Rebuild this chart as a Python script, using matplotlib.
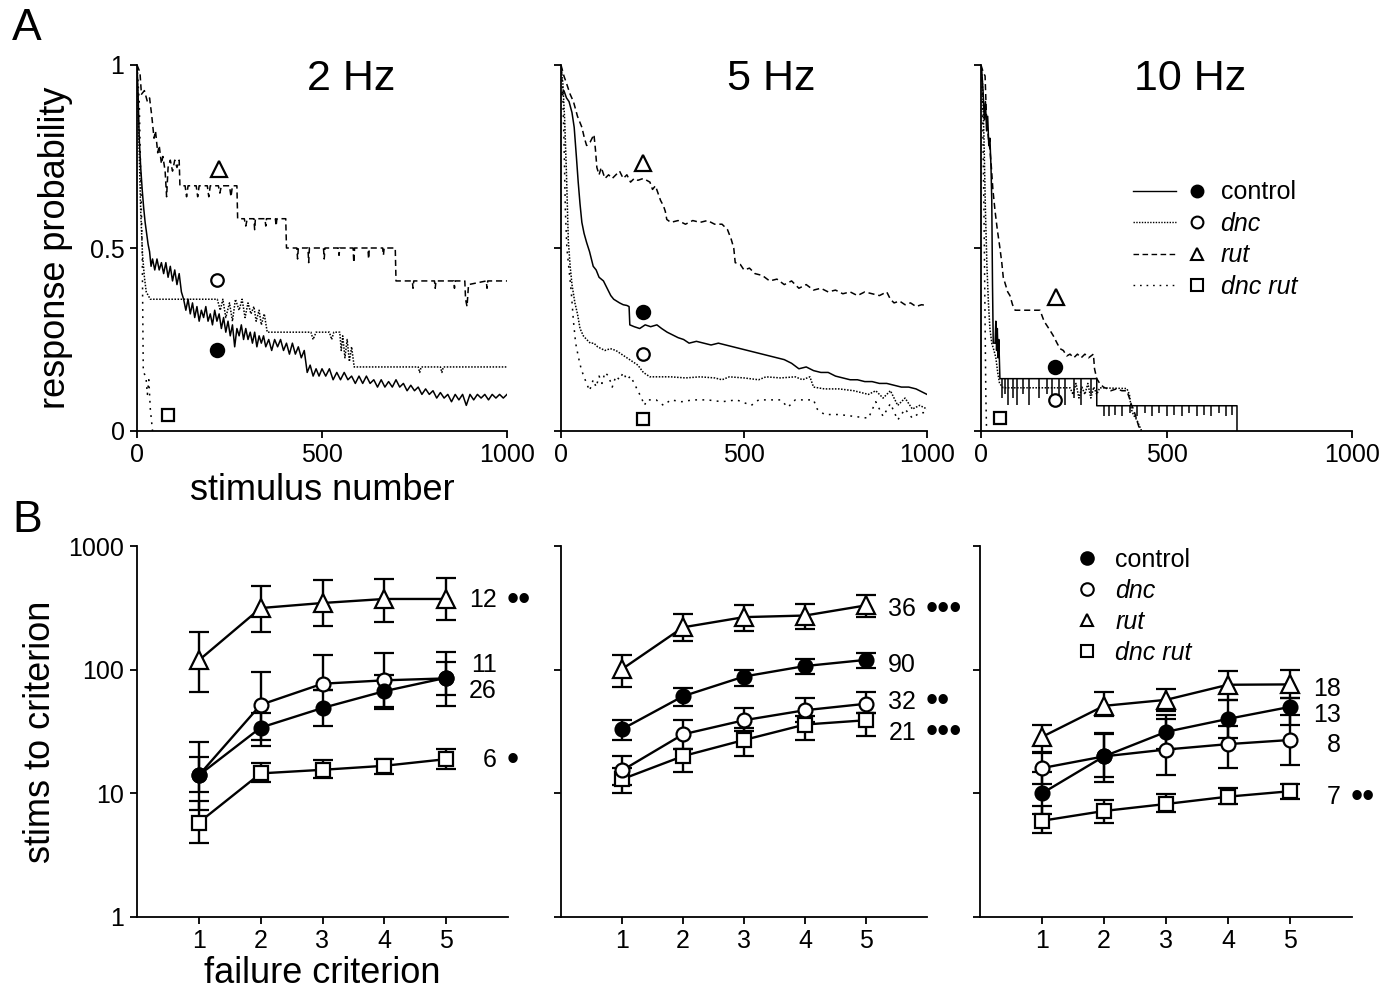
import matplotlib
matplotlib.use('Agg')
import matplotlib.pyplot as plt
from matplotlib.lines import Line2D
from matplotlib.legend_handler import HandlerTuple

plt.rcParams['font.family'] = ['Liberation Sans', 'DejaVu Sans']

# ---------------- Panel A data (response probability vs stimulus number) ----
stim_ticks = [0, 500, 1000]
prob_ticks = [0, 0.5, 1]
prob_ticklabels = ['0', '0.5', '1']
freq_titles = ['2 Hz', '5 Hz', '10 Hz']

ctrl_2hz = [(0,1.0),(3,0.92),(6,0.80),(10,0.72),(14,0.66),(18,0.61),(22,0.57),(26,0.54),(30,0.51),(34,0.49),
            (38,0.45),(42,0.47),(48,0.44),(54,0.47),(60,0.44),(66,0.46),(72,0.43),(78,0.46),(84,0.42),(90,0.45),
            (96,0.41),(102,0.44),(108,0.40),(114,0.43),(120,0.38),(126,0.36),(132,0.33),(138,0.36),(144,0.32),(150,0.35),
            (156,0.31),(162,0.34),(168,0.30),(174,0.33),(180,0.31),(186,0.34),(192,0.30),(198,0.32),(204,0.29),(210,0.33),
            (216,0.30),(222,0.32),(228,0.28),(234,0.31),(240,0.27),(246,0.30),(252,0.26),(258,0.29),(264,0.23),(270,0.28),
            (276,0.26),(282,0.29),(288,0.25),(294,0.28),(300,0.25),(306,0.27),(312,0.24),(318,0.27),(324,0.23),(330,0.26),
            (336,0.24),(342,0.26),(348,0.23),(356,0.25),(364,0.22),(372,0.25),(380,0.23),(388,0.25),(396,0.22),(404,0.24),
            (412,0.21),(420,0.24),(428,0.21),(436,0.23),(444,0.20),(452,0.22),(460,0.16),(468,0.18),(476,0.15),(484,0.17),
            (492,0.15),(500,0.17),(510,0.15),(520,0.17),(530,0.14),(540,0.16),(550,0.14),(560,0.16),(570,0.14),(580,0.15),
            (590,0.13),(600,0.15),(610,0.13),(620,0.15),(630,0.13),(640,0.14),(650,0.12),(660,0.14),(670,0.12),(680,0.135),
            (690,0.12),(700,0.14),(710,0.12),(720,0.13),(730,0.11),(740,0.125),(750,0.11),(760,0.12),(770,0.10),(780,0.115),
            (790,0.10),(800,0.11),(810,0.09),(820,0.105),(830,0.09),(840,0.10),(850,0.08),(860,0.10),(870,0.085),(880,0.10),
            (890,0.07),(900,0.10),(910,0.085),(920,0.10),(930,0.09),(940,0.10),(950,0.085),(960,0.10),(970,0.09),(980,0.10),
            (990,0.09),(1000,0.10)]
dnc_2hz = [(0,1.0),(5,0.80),(10,0.60),(15,0.48),(20,0.42),(25,0.38),(36,0.36),(217,0.36),(225,0.33),(232,0.36),
           (240,0.31),(250,0.35),(258,0.30),(266,0.36),(276,0.33),(284,0.36),(292,0.31),(300,0.35),(308,0.32),(316,0.34),
           (322,0.30),(330,0.33),(336,0.29),(344,0.32),(352,0.27),(470,0.27),(476,0.25),(484,0.27),(520,0.27),(526,0.25),
           (532,0.27),(548,0.27),(552,0.22),(556,0.26),(562,0.20),(568,0.25),(574,0.19),(580,0.23),(587,0.175),(760,0.175),
           (764,0.16),(768,0.175),(820,0.175),(824,0.16),(828,0.175),(1000,0.175)]
rut_2hz = [(0,1.0),(8,0.98),(12,0.92),(20,0.93),(28,0.90),(34,0.91),(40,0.86),(46,0.80),(50,0.82),(56,0.76),
           (60,0.78),(66,0.73),(70,0.75),(76,0.71),(80,0.64),(84,0.72),(90,0.74),(96,0.71),(102,0.74),(108,0.72),
           (114,0.74),(116,0.67),(130,0.67),(134,0.64),(138,0.67),(160,0.67),(164,0.64),(168,0.67),(190,0.67),(194,0.64),
           (198,0.67),(220,0.67),(224,0.65),(228,0.67),(250,0.67),(254,0.64),(258,0.67),(270,0.67),(272,0.58),(290,0.58),
           (294,0.56),(298,0.58),(316,0.58),(318,0.55),(320,0.58),(346,0.58),(348,0.56),(350,0.58),(374,0.58),(376,0.56),
           (378,0.58),(402,0.58),(404,0.50),(432,0.50),(434,0.47),(436,0.50),(462,0.50),(464,0.46),(466,0.50),(504,0.50),
           (506,0.47),(508,0.50),(544,0.50),(546,0.48),(548,0.50),(584,0.50),(586,0.46),(588,0.50),(624,0.50),(626,0.47),
           (628,0.50),(664,0.50),(666,0.48),(668,0.50),(698,0.50),(700,0.41),(744,0.41),(746,0.39),(748,0.41),(804,0.41),
           (806,0.39),(808,0.41),(856,0.41),(858,0.39),(860,0.41),(886,0.41),(888,0.36),(892,0.34),(896,0.40),(944,0.41),
           (946,0.39),(948,0.41),(1000,0.41)]
dncrut_2hz = [(0,1.0),(6,0.90),(14,0.50),(17,0.16),(24,0.15),(28,0.10),(32,0.14),(36,0.06),(40,0.02),(42,0.0)]

ctrl_5hz = [(0,0.92),(8,0.93),(15,0.91),(22,0.90),(30,0.87),(36,0.83),(42,0.75),(47,0.68),(52,0.62),(57,0.57),
            (63,0.54),(70,0.515),(78,0.49),(88,0.45),(96,0.44),(104,0.42),(116,0.41),(126,0.39),(136,0.37),(144,0.36),
            (152,0.355),(160,0.35),(170,0.345),(180,0.343),(186,0.34),(188,0.29),(200,0.285),(215,0.28),(230,0.29),(245,0.285),
            (262,0.29),(275,0.28),(290,0.27),(300,0.265),(310,0.26),(320,0.255),(335,0.25),(350,0.24),(370,0.245),(390,0.24),
            (410,0.235),(430,0.24),(450,0.235),(470,0.23),(490,0.225),(510,0.22),(530,0.215),(550,0.21),(570,0.205),(590,0.20),
            (610,0.195),(630,0.185),(650,0.17),(670,0.175),(690,0.165),(710,0.16),(730,0.16),(750,0.15),(770,0.145),(790,0.14),
            (810,0.14),(830,0.135),(850,0.135),(870,0.13),(890,0.13),(910,0.125),(930,0.12),(950,0.12),(970,0.115),(990,0.105),
            (1000,0.10)]
dnc_5hz = [(0,1.0),(5,0.95),(10,0.85),(15,0.70),(20,0.52),(25,0.45),(30,0.40),(38,0.35),(45,0.32),(52,0.28),
           (61,0.26),(70,0.25),(80,0.24),(90,0.24),(100,0.23),(110,0.225),(120,0.22),(135,0.225),(150,0.22),(165,0.21),
           (180,0.20),(195,0.19),(210,0.18),(225,0.16),(243,0.148),(300,0.148),(340,0.145),(380,0.148),(420,0.145),(440,0.14),
           (460,0.148),(500,0.145),(540,0.14),(560,0.148),(600,0.145),(640,0.148),(660,0.14),(680,0.148),(690,0.12),(720,0.115),
           (760,0.115),(800,0.11),(840,0.10),(860,0.11),(880,0.09),(900,0.11),(920,0.07),(940,0.09),(960,0.06),(980,0.07),
           (1000,0.06)]
rut_5hz = [(0,1.0),(8,0.97),(15,0.95),(25,0.92),(34,0.90),(45,0.86),(57,0.83),(64,0.80),(70,0.78),(80,0.79),
           (90,0.81),(94,0.77),(98,0.72),(104,0.70),(110,0.72),(120,0.69),(130,0.70),(140,0.69),(150,0.70),(160,0.71),
           (170,0.69),(180,0.70),(190,0.68),(200,0.69),(210,0.685),(225,0.69),(243,0.68),(250,0.66),(258,0.67),(265,0.65),
           (272,0.63),(280,0.615),(285,0.60),(289,0.578),(300,0.57),(320,0.575),(340,0.565),(360,0.575),(380,0.57),(400,0.575),
           (420,0.565),(440,0.565),(455,0.55),(465,0.524),(472,0.50),(476,0.46),(490,0.455),(500,0.44),(515,0.445),(530,0.43),
           (550,0.425),(570,0.41),(590,0.415),(610,0.40),(630,0.41),(650,0.39),(670,0.40),(690,0.385),(710,0.39),(730,0.38),
           (750,0.385),(770,0.375),(790,0.38),(810,0.37),(830,0.38),(850,0.375),(870,0.37),(890,0.38),(900,0.36),(910,0.35),
           (925,0.355),(940,0.345),(955,0.35),(970,0.34),(985,0.345),(1000,0.343)]
dncrut_5hz = [(0,1.0),(4,0.95),(8,0.80),(12,0.60),(16,0.50),(22,0.44),(28,0.38),(34,0.30),(40,0.24),(48,0.20),
              (55,0.17),(62,0.15),(70,0.13),(78,0.11),(88,0.14),(96,0.12),(104,0.15),(112,0.13),(120,0.16),(130,0.15),
              (140,0.12),(150,0.15),(160,0.14),(170,0.16),(180,0.14),(190,0.15),(200,0.13),(210,0.11),(220,0.09),(228,0.07),
              (235,0.085),(260,0.085),(280,0.07),(300,0.085),(330,0.08),(360,0.085),(400,0.085),(440,0.08),(480,0.085),(520,0.07),
              (540,0.085),(600,0.085),(620,0.065),(640,0.085),(690,0.085),(700,0.06),(720,0.045),(760,0.045),(800,0.04),(840,0.035),
              (860,0.08),(880,0.04),(900,0.075),(920,0.03),(940,0.06),(960,0.035),(980,0.05),(1000,0.05)]

ctrl_10hz = [(0,1.0),(3,0.97),(6,0.92),(9,0.85),(12,0.90),(15,0.82),(18,0.86),(21,0.78),(24,0.80),(27,0.72),
             (29,0.63),(31,0.40),(33,0.24),(38,0.24),(40,0.30),(42,0.22),(44,0.28),(46,0.20),(48,0.25),(51,0.143),
             (312,0.143),(312,0.069),(690,0.069),(690,0.0)]
ctrl_10hz_dip_x = [57,65,73,86,98,113,129,156,177,191,211,226,251,269,296,
                   331,346,361,381,401,421,441,461,481,501,521,541,561,581,601,621,641,661,676]
ctrl_10hz_dip_lo = [0.09,0.10,0.07,0.09,0.07,0.10,0.07,0.09,0.10,0.07,0.09,0.07,0.09,0.07,0.10,
                    0.04,0.04,0.045,0.04,0.05,0.04,0.05,0.04,0.05,0.04,0.045,0.04,0.05,0.04,0.045,0.04,0.05,0.04,0.045]
ctrl_10hz_dip_hi = [0.143]*15 + [0.069]*19
dnc_10hz = [(0,1.0),(4,0.95),(8,0.80),(12,0.60),(16,0.45),(20,0.35),(24,0.28),(29,0.24),(35,0.22),(40,0.20),
            (45,0.16),(50,0.13),(60,0.118),(240,0.118),(248,0.10),(256,0.13),(264,0.09),(272,0.12),(280,0.10),(288,0.13),
            (296,0.09),(304,0.12),(312,0.10),(320,0.118),(393,0.116),(400,0.10),(405,0.06),(411,0.044),(420,0.03),(433,0.0)]
rut_10hz = [(0,1.0),(6,0.98),(11,0.97),(15,0.85),(20,0.80),(24,0.77),(28,0.72),(32,0.66),(38,0.60),(44,0.55),
            (51,0.50),(56,0.46),(60,0.42),(66,0.40),(72,0.38),(78,0.37),(85,0.345),(92,0.33),(159,0.33),(170,0.30),
            (186,0.275),(195,0.26),(205,0.24),(213,0.225),(222,0.22),(231,0.205),(240,0.21),(250,0.20),(260,0.21),(270,0.20),
            (280,0.21),(290,0.20),(303,0.21),(306,0.17),(312,0.143),(320,0.13),(330,0.12),(339,0.116),(350,0.11),(365,0.115),
            (380,0.11),(393,0.11),(400,0.09),(406,0.07),(411,0.06),(420,0.03),(429,0.0)]
dncrut_10hz = [(0,1.0),(4,0.90),(8,0.60),(11,0.30),(13,0.10),(15,0.0)]

traces_A = [
    {'control': ctrl_2hz, 'dnc': dnc_2hz, 'rut': rut_2hz, 'dnc rut': dncrut_2hz},
    {'control': ctrl_5hz, 'dnc': dnc_5hz, 'rut': rut_5hz, 'dnc rut': dncrut_5hz},
    {'control': ctrl_10hz, 'dnc': dnc_10hz, 'rut': rut_10hz, 'dnc rut': dncrut_10hz},
]

# identifying symbols placed beside the traces (stimulus number, probability)
sym_2hz = {'control': (216, 0.22), 'dnc': (216, 0.412), 'rut': (221, 0.716), 'dnc rut': (84, 0.045)}
sym_5hz = {'control': (224, 0.326), 'dnc': (224, 0.211), 'rut': (225, 0.733), 'dnc rut': (224, 0.033)}
sym_10hz = {'control': (200, 0.175), 'dnc': (200, 0.084), 'rut': (202, 0.365), 'dnc rut': (51, 0.036)}
symbols_A = [sym_2hz, sym_5hz, sym_10hz]

# ---------------- Panel B data (stims to criterion vs failure criterion) ----
criterion = [1, 2, 3, 4, 5]
stim_log_ticks = [1, 10, 100, 1000]
stim_log_labels = ['1', '10', '100', '1000']

B_2hz = {
    'control': dict(y=[14, 34, 49, 67, 86], lo=[10.2, 24, 35, 48, 62], hi=[19.5, 45, 68, 90, 116]),
    'dnc': dict(y=[14, 52, 77, 82, 85], lo=[7.4, 27, 68, 50, 51], hi=[25.8, 95, 131, 137, 140]),
    'rut': dict(y=[119, 315, 346, 373, 373], lo=[66, 203, 226, 245, 253], hi=[203, 479, 529, 539, 552]),
    'dnc rut': dict(y=[5.8, 14.5, 15.5, 16.7, 18.9], lo=[3.96, 12.4, 13.4, 14.3, 15.7], hi=[8.7, 17.5, 18.6, 18.9, 23]),
}
B_5hz = {
    'control': dict(y=[33, 61, 88, 107, 120], lo=[27, 51, 74, 92, 104], hi=[39, 71, 100, 122, 136]),
    'dnc': dict(y=[15.3, 30, 39, 47, 53], lo=[11.7, 23, 32, 38, 45], hi=[20.2, 39.5, 49, 59, 66]),
    'rut': dict(y=[101, 220, 266, 274, 331], lo=[72, 170, 205, 214, 266], hi=[132, 283, 335, 341, 404]),
    'dnc rut': dict(y=[13, 20, 27, 36, 39], lo=[10, 15, 20, 27, 29], hi=[16, 23, 34, 42, 45]),
}
B_10hz = {
    'control': dict(y=[10, 19.9, 31.4, 40, 50], lo=[6.8, 12.3, 23, 28, 36], hi=[14.8, 31, 43, 57, 59]),
    'dnc': dict(y=[16, 19.9, 22.6, 25, 27], lo=[12, 13.5, 14, 16, 17], hi=[21, 30, 40, 35, 43]),
    'rut': dict(y=[28.6, 51, 57, 75.5, 76], lo=[21.5, 42, 46, 57, 59], hi=[35.6, 66, 70, 97, 99]),
    'dnc rut': dict(y=[6, 7.2, 8.2, 9.4, 10.4], lo=[4.8, 5.8, 7, 8.2, 9], hi=[7.9, 8.8, 9.8, 11, 11.9]),
}
data_B = [B_2hz, B_5hz, B_10hz]

# number of flies (n) and significance, with the height where each label sits
n_2hz = {'rut': ('12', '••', 365), 'dnc': ('11', '', 109), 'control': ('26', '', 67), 'dnc rut': ('6', '•', 18.6)}
n_5hz = {'rut': ('36', '•••', 309), 'control': ('90', '', 109), 'dnc': ('32', '••', 55), 'dnc rut': ('21', '•••', 31)}
n_10hz = {'rut': ('18', '', 70), 'control': ('13', '', 43), 'dnc': ('8', '', 24.6), 'dnc rut': ('7', '••', 9.3)}
n_labels = [n_2hz, n_5hz, n_10hz]

genotypes = ['control', 'dnc', 'rut', 'dnc rut']

# ---------------- styles ----------------
line_style = {'control': '-', 'dnc': (0, (1.0, 1.0)), 'rut': (0, (4.0, 2.5)), 'dnc rut': (0, (1.2, 3.5))}
mk = {'control': 'o', 'dnc': 'o', 'rut': '^', 'dnc rut': 's'}
mfc = {'control': 'k', 'dnc': 'w', 'rut': 'w', 'dnc rut': 'w'}
ms_A = {'control': 9.5, 'dnc': 9.0, 'rut': 11.5, 'dnc rut': 9.0}
ms_B = {'control': 10.0, 'dnc': 10.0, 'rut': 12.5, 'dnc rut': 10.0}
italic = {'control': 'normal', 'dnc': 'italic', 'rut': 'italic', 'dnc rut': 'italic'}

W, H = 1383, 994
fig = plt.figure(figsize=(W / 100, H / 100), dpi=100)

def ax_rect(x0, x1, ytop, ybot):
    return [x0 / W, 1 - ybot / H, (x1 - x0) / W, (ybot - ytop) / H]

top_x = [(137, 507), (561, 927), (981, 1352)]
bot_x = [(137, 508), (561, 927), (980, 1352)]
axA = [fig.add_axes(ax_rect(a, b, 65, 431)) for a, b in top_x]
axB = [fig.add_axes(ax_rect(a, b, 546, 917)) for a, b in bot_x]

TICK_FS = 18
SPINE_LW = 1.3

def style_axis(ax):
    for s in ['top', 'right']:
        ax.spines[s].set_visible(False)
    for s in ['left', 'bottom']:
        ax.spines[s].set_linewidth(SPINE_LW)
    ax.tick_params(direction='out', length=5, width=SPINE_LW, labelsize=TICK_FS, pad=4)

# ---- Panel A ----
for i, ax in enumerate(axA):
    style_axis(ax)
    for g in genotypes:
        pts = traces_A[i][g]
        xs = [p[0] for p in pts]
        ys = [p[1] for p in pts]
        ax.plot(xs, ys, color='k', lw=1.1, linestyle=line_style[g])
    if i == 2:
        ax.vlines(ctrl_10hz_dip_x, ctrl_10hz_dip_lo, ctrl_10hz_dip_hi, color='k', lw=1.1)
    for g in genotypes:
        sx, sy = symbols_A[i][g]
        ax.plot([sx], [sy], marker=mk[g], ms=ms_A[g], mfc=mfc[g], mec='k', mew=1.6, ls='none', zorder=5)
    ax.set_xlim(0, 1000)
    ax.set_ylim(0, 1)
    ax.set_xticks(stim_ticks)
    ax.set_xticklabels([str(t) for t in stim_ticks])
    ax.set_yticks(prob_ticks)
    if i == 0:
        ax.set_yticklabels(prob_ticklabels)
        ax.set_ylabel('response probability', fontsize=26, labelpad=12)
        ax.set_xlabel('stimulus number', fontsize=26, labelpad=4)
    else:
        ax.set_yticklabels([])
    ax.text([0.58, 0.575, 0.565][i], 0.962, freq_titles[i], transform=ax.transAxes,
            ha='center', va='center', fontsize=31)

# legend for panel A (line + symbol)
handles = []
for g in genotypes:
    ln = Line2D([], [], color='k', lw=1.0, linestyle=line_style[g])
    mkr = Line2D([], [], marker=mk[g], ms=8.5, mfc=mfc[g], mec='k', mew=1.5, ls='none')
    handles.append((ln, mkr))
legA = axA[2].legend(handles, genotypes, handler_map={tuple: HandlerTuple(ndivide=2, pad=0.0)},
                     loc='upper left', bbox_to_anchor=(0.41, 0.685), frameon=False, fontsize=18,
                     handlelength=3.4, handletextpad=0.1, labelspacing=0.30, borderpad=0, borderaxespad=0)
for t, g in zip(legA.get_texts(), genotypes):
    t.set_style(italic[g])

# ---- Panel B ----
for i, ax in enumerate(axB):
    style_axis(ax)
    ax.set_yscale('log')
    for g in ['dnc rut', 'dnc', 'control', 'rut']:
        d = data_B[i][g]
        yerr = [[y - l for y, l in zip(d['y'], d['lo'])], [h - y for y, h in zip(d['y'], d['hi'])]]
        ax.errorbar(criterion, d['y'], yerr=yerr, color='k', lw=1.7, elinewidth=1.7, capsize=7.5,
                    capthick=1.7, marker=mk[g], ms=ms_B[g], mfc=mfc[g], mec='k', mew=1.6, zorder=3)
    for g in genotypes:
        num, sig, ypos = n_labels[i][g]
        ax.text(5.82, ypos, num, ha='right', va='center', fontsize=18)
        if sig:
            ax.text(5.98, ypos, sig, ha='left', va='center', fontsize=25, clip_on=False)
    ax.set_xlim(0, 6)
    ax.set_ylim(1, 1000)
    ax.set_xticks(criterion)
    ax.set_xticklabels([str(c) for c in criterion])
    ax.set_yticks(stim_log_ticks)
    ax.yaxis.set_minor_locator(matplotlib.ticker.NullLocator())
    if i == 0:
        ax.set_yticklabels(stim_log_labels)
        ax.set_ylabel('stims to criterion', fontsize=26, labelpad=8)
        ax.set_xlabel('failure criterion', fontsize=26, labelpad=2)
    else:
        ax.set_yticklabels([])

# legend for panel B (symbols only)
hB = [Line2D([], [], marker=mk[g], ms=9, mfc=mfc[g], mec='k', mew=1.5, ls='none') for g in genotypes]
legB = axB[2].legend(hB, genotypes, loc='upper left', bbox_to_anchor=(0.26, 0.995), frameon=False,
                     fontsize=18, handlelength=0.8, handletextpad=0.75, labelspacing=0.28,
                     borderpad=0, borderaxespad=0)
for t, g in zip(legB.get_texts(), genotypes):
    t.set_style(italic[g])

fig.text(27 / W, 1 - 29 / H, 'A', ha='center', va='center', fontsize=32)
fig.text(27 / W, 1 - 520 / H, 'B', ha='center', va='center', fontsize=32)

fig.savefig('out.png', dpi=100)
